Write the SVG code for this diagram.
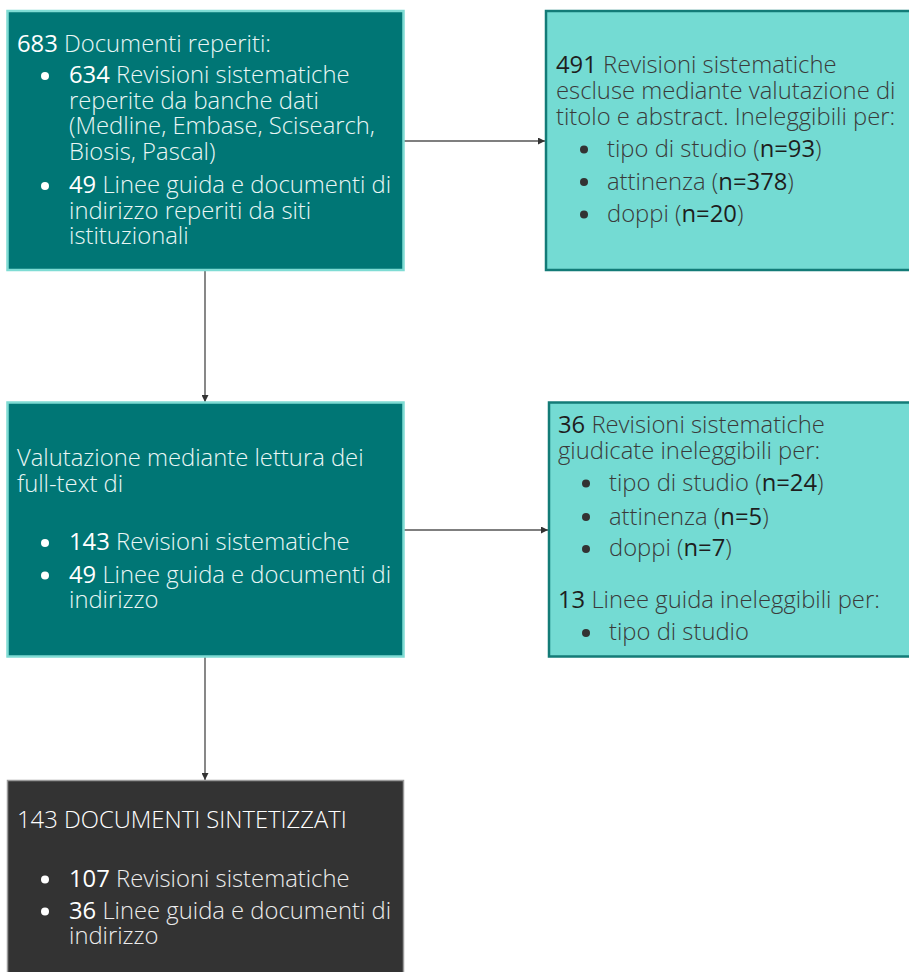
<svg xmlns="http://www.w3.org/2000/svg" width="909" height="972" viewBox="0 0 909 972">
<defs>
<marker id="arr" viewBox="0 0 10 10" refX="10" refY="5" markerWidth="7" markerHeight="7" markerUnits="userSpaceOnUse" orient="auto">
<path d="M0,0 L10,5 L0,10 z" fill="#333"/>
</marker>
<style>
text{font-family:"Open Sans","Noto Sans","Liberation Sans",sans-serif;font-size:23.8px;font-weight:300}
.n{font-weight:400}
.dk rect{fill:#007675;stroke:#7fdcd4;stroke-width:2.5}
.lt rect{fill:#74dbd3;stroke:#137b77;stroke-width:2.5}
.dk text{fill:#eaf6f5}
.dk .n{fill:#ffffff}
.lt text{fill:#3a3a3a}
.lt .n{fill:#1e1e1e}
.fin rect{fill:#333333;stroke:#9a9a9a;stroke-width:1.5}
.fin text{fill:#ececec}
.fin .n,.fin .h{fill:#ffffff}
.dk circle,.fin circle{fill:#ffffff}
.lt circle{fill:#333}
.edge{stroke:#555;stroke-width:1.4;fill:none;marker-end:url(#arr)}
</style>
</defs>
<g id="connectors">
<line class="edge" x1="404" y1="141" x2="545" y2="141"/>
<line class="edge" x1="205" y1="271" x2="205" y2="402"/>
<line class="edge" x1="404" y1="530" x2="548" y2="530"/>
<line class="edge" x1="205" y1="657" x2="205" y2="780"/>
</g>
<g id="found" class="dk">
<rect x="7.5" y="11" width="396" height="259"/>
<text x="17" y="52"><tspan class="n">683</tspan> Documenti reperiti:</text>
<circle cx="45" cy="76" r="4"/>
<text x="69" y="83"><tspan class="n">634</tspan> Revisioni sistematiche<tspan x="69" dy="25.7">reperite da banche dati</tspan><tspan x="69" dy="25.7">(Medline, Embase, Scisearch,</tspan><tspan x="69" dy="25.7">Biosis, Pascal)</tspan></text>
<circle cx="45" cy="186" r="4"/>
<text x="69" y="193"><tspan class="n">49</tspan> Linee guida e documenti di<tspan x="69" dy="25.5">indirizzo reperiti da siti</tspan><tspan x="69" dy="25.5">istituzionali</tspan></text>
</g>
<g id="excluded1" class="lt">
<rect x="546" y="11" width="366" height="259"/>
<text x="556" y="73"><tspan class="n">491</tspan> Revisioni sistematiche<tspan x="556" dy="26">escluse mediante valutazione di</tspan><tspan x="556" dy="26">titolo e abstract. Ineleggibili per:</tspan></text>
<circle cx="584" cy="149.5" r="4"/>
<text x="607" y="157">tipo di studio (<tspan class="n">n=93</tspan>)</text>
<circle cx="584" cy="182" r="4"/>
<text x="607" y="189.5">attinenza (<tspan class="n">n=378</tspan>)</text>
<circle cx="584" cy="214.5" r="4"/>
<text x="607" y="222">doppi (<tspan class="n">n=20</tspan>)</text>
</g>
<g id="fulltext" class="dk">
<rect x="7.5" y="402.5" width="396" height="254"/>
<text x="17" y="466">Valutazione mediante lettura dei<tspan x="17" dy="25.5">full-text di</tspan></text>
<circle cx="45" cy="543" r="4"/>
<text x="69" y="550"><tspan class="n">143</tspan> Revisioni sistematiche</text>
<circle cx="45" cy="575.5" r="4"/>
<text x="69" y="582.5"><tspan class="n">49</tspan> Linee guida e documenti di<tspan x="69" dy="25.5">indirizzo</tspan></text>
</g>
<g id="excluded2" class="lt">
<rect x="549" y="402.5" width="363" height="254"/>
<text x="558" y="433"><tspan class="n">36</tspan> Revisioni sistematiche<tspan x="558" dy="26">giudicate ineleggibili per:</tspan></text>
<circle cx="586" cy="483.5" r="4"/>
<text x="609" y="491">tipo di studio (<tspan class="n">n=24</tspan>)</text>
<circle cx="586" cy="517" r="4"/>
<text x="609" y="524.5">attinenza (<tspan class="n">n=5</tspan>)</text>
<circle cx="586" cy="549" r="4"/>
<text x="609" y="556">doppi (<tspan class="n">n=7</tspan>)</text>
<text x="558" y="608"><tspan class="n">13</tspan> Linee guida ineleggibili per:</text>
<circle cx="586" cy="633" r="4"/>
<text x="609" y="640">tipo di studio</text>
</g>
<g id="synthesized" class="fin">
<rect x="7.5" y="780.5" width="396" height="200"/>
<text class="h" x="17" y="828">143 DOCUMENTI SINTETIZZATI</text>
<circle cx="45" cy="879.5" r="4"/>
<text x="69" y="887"><tspan class="n">107</tspan> Revisioni sistematiche</text>
<circle cx="45" cy="911.5" r="4"/>
<text x="69" y="918.5"><tspan class="n">36</tspan> Linee guida e documenti di<tspan x="69" dy="25.5">indirizzo</tspan></text>
</g>
</svg>
